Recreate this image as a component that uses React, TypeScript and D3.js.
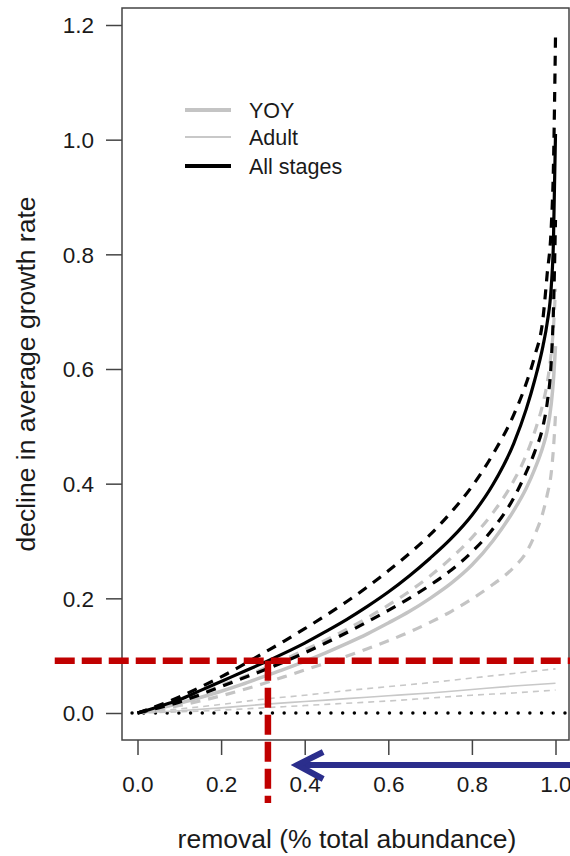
import { useEffect, useRef } from 'react';
import * as d3 from 'd3';

// removal fraction (x) shared by the stage curves
const removal = [0, 0.05, 0.1, 0.15, 0.2, 0.25, 0.3, 0.35, 0.4, 0.45, 0.5, 0.55, 0.6, 0.65, 0.7, 0.75, 0.8, 0.85, 0.9, 0.93, 0.95, 0.97, 0.98, 0.99, 0.995, 1.0];

const allStages = [0, 0.011, 0.023, 0.039, 0.055, 0.071, 0.087, 0.104, 0.122, 0.142, 0.163, 0.186, 0.211, 0.239, 0.27, 0.304, 0.345, 0.398, 0.47, 0.53, 0.58, 0.64, 0.68, 0.745, 0.82, 1.01];
const allStagesUpper = [0, 0.013, 0.028, 0.045, 0.063, 0.083, 0.104, 0.125, 0.147, 0.17, 0.194, 0.22, 0.248, 0.278, 0.311, 0.35, 0.395, 0.451, 0.52, 0.575, 0.622, 0.688, 0.765, 0.85, 0.95, 1.18];
const allStagesLower = [0, 0.009, 0.019, 0.032, 0.046, 0.06, 0.074, 0.089, 0.105, 0.122, 0.14, 0.159, 0.179, 0.2, 0.223, 0.249, 0.281, 0.321, 0.375, 0.42, 0.455, 0.5, 0.54, 0.615, 0.7, 0.86];

const yoy = [0, 0.008, 0.017, 0.027, 0.038, 0.05, 0.063, 0.076, 0.09, 0.105, 0.121, 0.138, 0.157, 0.177, 0.2, 0.226, 0.258, 0.3, 0.353, 0.392, 0.425, 0.465, 0.492, 0.54, 0.58, 0.64];
const yoyUpper = [0, 0.01, 0.021, 0.034, 0.048, 0.062, 0.077, 0.093, 0.11, 0.127, 0.146, 0.166, 0.188, 0.212, 0.239, 0.27, 0.306, 0.349, 0.405, 0.45, 0.49, 0.54, 0.575, 0.63, 0.67, 0.74];
const yoyLower = [0, 0.006, 0.013, 0.021, 0.03, 0.04, 0.051, 0.063, 0.075, 0.087, 0.099, 0.112, 0.126, 0.141, 0.158, 0.177, 0.199, 0.224, 0.254, 0.28, 0.31, 0.35, 0.38, 0.42, 0.46, 0.52];

const adultRemoval = [0, 0.1, 0.2, 0.3, 0.4, 0.5, 0.6, 0.7, 0.8, 0.9, 1.0];
const adult = [0, 0.004, 0.009, 0.015, 0.02, 0.025, 0.03, 0.035, 0.041, 0.047, 0.052];
const adultUpper = [0, 0.007, 0.015, 0.024, 0.031, 0.039, 0.046, 0.053, 0.061, 0.069, 0.077];
const adultLower = [0, 0.002, 0.005, 0.009, 0.013, 0.017, 0.021, 0.026, 0.031, 0.035, 0.04];

const xTicks = [0, 0.2, 0.4, 0.6, 0.8, 1.0];
const yTicks = [0, 0.2, 0.4, 0.6, 0.8, 1.0, 1.2];
const legendLabels = ['YOY', 'Adult', 'All stages'];

// annotation: target decline and matching removal
const targetDecline = 0.091;
const targetRemoval = 0.312;

const FONT = '"Liberation Sans", Arial, sans-serif';

export default function App() {
  const ref = useRef<SVGSVGElement>(null);

  useEffect(() => {
    const svg = d3.select(ref.current);
    svg.selectAll('*').remove();

    const x = d3.scaleLinear().domain([0, 1]).range([137.5, 555.5]);
    const y = d3.scaleLinear().domain([0, 1.2]).range([713, 25]);

    // frame
    svg.append('rect')
      .attr('x', 122).attr('y', 8)
      .attr('width', 447).attr('height', 732)
      .attr('fill', 'none').attr('stroke', '#444').attr('stroke-width', 1.5);

    // y axis
    const gy = svg.append('g')
      .attr('transform', 'translate(122,0)')
      .call(d3.axisLeft(y).tickValues(yTicks).tickFormat(d3.format('.1f')).tickSize(16).tickPadding(12).tickSizeOuter(0));
    gy.select('.domain').remove();
    gy.selectAll('line').attr('stroke', '#444').attr('stroke-width', 1.5);
    gy.selectAll('text').attr('font-size', 22.5).attr('font-family', FONT).attr('fill', '#1a1a1a').attr('dy', '0.35em');

    // x axis
    const gx = svg.append('g')
      .attr('transform', 'translate(0,740)')
      .call(d3.axisBottom(x).tickValues(xTicks).tickFormat(d3.format('.1f')).tickSize(15).tickPadding(21).tickSizeOuter(0));
    gx.select('.domain').remove();
    gx.selectAll('line').attr('stroke', '#444').attr('stroke-width', 1.5);
    gx.selectAll('text').attr('font-size', 22.5).attr('font-family', FONT).attr('fill', '#1a1a1a');

    // axis titles
    svg.append('text')
      .attr('x', 347).attr('y', 848)
      .attr('text-anchor', 'middle')
      .attr('font-size', 26.5).attr('font-family', FONT).attr('fill', '#1a1a1a')
      .text('removal (% total abundance)');
    svg.append('text')
      .attr('transform', 'translate(35,374) rotate(-90)')
      .attr('text-anchor', 'middle')
      .attr('font-size', 26.5).attr('font-family', FONT).attr('fill', '#1a1a1a')
      .text('decline in average growth rate');

    // zero reference
    svg.append('line')
      .attr('x1', x(-0.013)).attr('x2', 572)
      .attr('y1', y(0)).attr('y2', y(0))
      .attr('stroke', '#000').attr('stroke-width', 3.5)
      .attr('stroke-linecap', 'round').attr('stroke-dasharray', '0,11.7');

    const line = (xs: number[]) => d3.line<number>()
      .x((_, i) => x(xs[i]))
      .y(d => y(d))
      .curve(d3.curveMonotoneX);

    const series = [
      { xs: adultRemoval, ys: adultUpper, color: '#c8c8c8', w: 1.6, dash: '6,5' },
      { xs: adultRemoval, ys: adultLower, color: '#c8c8c8', w: 1.6, dash: '6,5' },
      { xs: adultRemoval, ys: adult, color: '#c8c8c8', w: 1.6, dash: null },
      { xs: removal, ys: yoyUpper, color: '#c4c4c4', w: 3.2, dash: '10,8' },
      { xs: removal, ys: yoyLower, color: '#c4c4c4', w: 3.2, dash: '10,8' },
      { xs: removal, ys: yoy, color: '#c4c4c4', w: 3.5, dash: null },
      { xs: removal, ys: allStagesUpper, color: '#000', w: 3.2, dash: '10,8' },
      { xs: removal, ys: allStagesLower, color: '#000', w: 3.2, dash: '10,8' },
      { xs: removal, ys: allStages, color: '#000', w: 3.2, dash: null },
    ];

    series.forEach(s => {
      svg.append('path')
        .attr('d', line(s.xs)(s.ys))
        .attr('fill', 'none')
        .attr('stroke', s.color)
        .attr('stroke-width', s.w)
        .attr('stroke-dasharray', s.dash)
        .attr('stroke-linejoin', 'round');
    });

    // legend
    const legendStyle = [
      { color: '#c4c4c4', w: 4 },
      { color: '#c8c8c8', w: 2 },
      { color: '#000', w: 4 },
    ];
    const legendY = [110, 137, 166];
    legendLabels.forEach((lab, i) => {
      svg.append('line')
        .attr('x1', 185).attr('x2', 231)
        .attr('y1', legendY[i]).attr('y2', legendY[i])
        .attr('stroke', legendStyle[i].color).attr('stroke-width', legendStyle[i].w);
      svg.append('text')
        .attr('x', 249).attr('y', legendY[i] + 8)
        .attr('font-size', 21.5).attr('font-family', FONT).attr('fill', '#1a1a1a')
        .text(lab);
    });

    // red target lines
    svg.append('line')
      .attr('x1', x(-0.198)).attr('x2', 572)
      .attr('y1', y(targetDecline)).attr('y2', y(targetDecline))
      .attr('stroke', '#c00000').attr('stroke-width', 6.5)
      .attr('stroke-dasharray', '20,7');
    svg.append('line')
      .attr('x1', x(targetRemoval)).attr('x2', x(targetRemoval))
      .attr('y1', y(targetDecline)).attr('y2', 803)
      .attr('stroke', '#c00000').attr('stroke-width', 6.5)
      .attr('stroke-dasharray', '20,7');

    // blue arrow
    const tipX = x(0.382);
    const arrowY = 765;
    svg.append('line')
      .attr('x1', 575).attr('x2', tipX + 2)
      .attr('y1', arrowY).attr('y2', arrowY)
      .attr('stroke', '#2b2e8c').attr('stroke-width', 6);
    svg.append('path')
      .attr('d', `M${tipX + 26},${arrowY - 13} L${tipX},${arrowY} L${tipX + 26},${arrowY + 14}`)
      .attr('fill', 'none')
      .attr('stroke', '#2b2e8c').attr('stroke-width', 6)
      .attr('stroke-linejoin', 'miter');
  }, []);

  return (
    <svg
      ref={ref}
      width={570}
      height={856}
      style={{ position: 'absolute', left: 0, top: 0, background: '#fff' }}
    />
  );
}
